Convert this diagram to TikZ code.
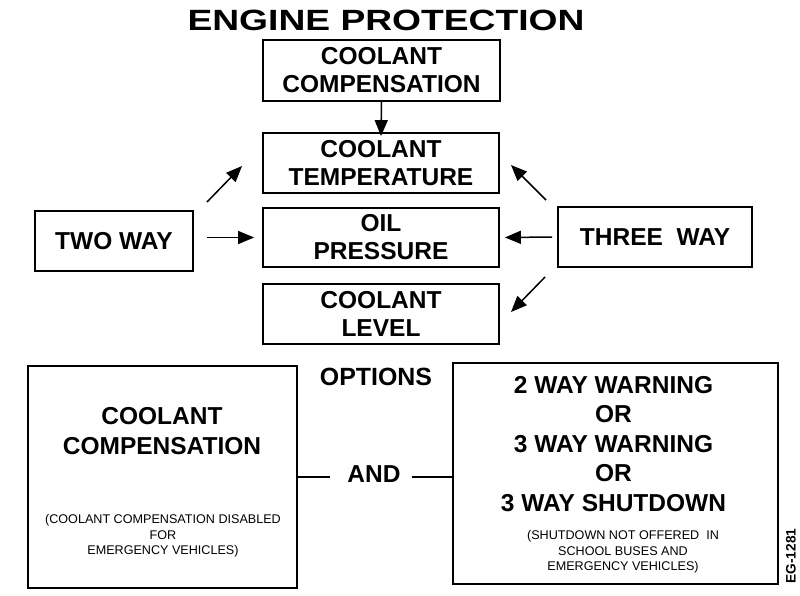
\documentclass[tikz,border=0pt]{standalone}
\usepackage{fontspec}
\setmainfont{Liberation Sans}
\newfontfamily\titlefont[FakeStretch=1.27]{Liberation Sans}
\usepackage{tikz}
\usetikzlibrary{positioning,arrows.meta,calc}
\tikzset{
  sensebox/.style={draw, line width=1.8pt, minimum width=236pt, minimum height=60pt,
                   inner sep=0pt, align=center, font=\fontsize{24.5}{28}\selectfont\bfseries},
  modebox/.style={draw, line width=1.8pt, minimum height=60pt, inner sep=0pt,
                  align=center, font=\fontsize{24.5}{28}\selectfont\bfseries},
  optbox/.style={draw, line width=1.8pt, inner sep=0pt},
  bigtxt/.style={inner sep=0pt, align=center, font=\fontsize{24.5}{29.5}\selectfont\bfseries},
  smalltxt/.style={inner sep=0pt, align=center, font=\fontsize{12.6}{15.5}\selectfont},
  arr/.style={-{Triangle[length=16pt,width=13pt]}, line width=1.5pt},
  link/.style={line width=1.3pt}
}

\begin{document}
\begin{tikzpicture}[x=1pt,y=-1pt]
  \useasboundingbox (0,0) rectangle (800,595);

  % Title
  \node[inner sep=0pt, font=\titlefont\fontsize{29.3}{32}\selectfont\bfseries] (title) at (386,20)
        {ENGINE PROTECTION};

  % Protected values
  \node[sensebox, minimum width=237pt, minimum height=61pt] (comp) at (381.5,70.5)
        {COOLANT\\COMPENSATION};
  \node[sensebox] (temp) at (381,163) {COOLANT\\TEMPERATURE};
  \node[sensebox, minimum height=59pt] (oil) at (381,237.5) {OIL\\PRESSURE};
  \node[sensebox] (level) at (381,314) {COOLANT\\LEVEL};

  % Warning modes
  \node[modebox, minimum width=158pt] (two) at (114,241) {TWO WAY};
  \node[modebox, minimum width=194pt] (three) at (655,237) {THREE\ \ WAY};

  % Arrow ends
  \coordinate (twoup) at (207,202);
  \coordinate (tempsw) at (242,166);
  \coordinate (threeup) at (546,200);
  \coordinate (tempse) at (511,165);
  \coordinate (threedn) at (545,277);
  \coordinate (levelne) at (511,312);

  \draw[arr] (comp.south) -- ([yshift=-4pt]temp.north);
  \draw[arr] (twoup) -- (tempsw);
  \draw[arr, shorten <=13pt, shorten >=8pt] (two.east |- oil.west) -- (oil.west);
  \draw[arr] (threeup) -- (tempse);
  \draw[arr, shorten <=5pt, shorten >=5pt] (three.west) -- (oil.east);
  \draw[arr] (threedn) -- (levelne);

  % Options
  \node[inner sep=0pt, font=\fontsize{24.9}{28}\selectfont\bfseries] (options) at (376,377) {OPTIONS};

  \node[optbox, minimum width=269pt, minimum height=222pt] (ccbox) at (162.5,477) {};
  \node[bigtxt] (cctext) at (162,431) {COOLANT\\COMPENSATION};
  \node[smalltxt] (ccnote) at (163,536)
        {(COOLANT COMPENSATION DISABLED\\FOR\\EMERGENCY VEHICLES)};

  \node[optbox, minimum width=325pt, minimum height=221pt] (warnbox) at (615.5,473.5) {};
  \node[bigtxt] (warntext) at (613.5,444)
        {2 WAY WARNING\\OR\\3 WAY WARNING\\OR\\3 WAY SHUTDOWN};
  \node[smalltxt] (warnnote) at (623,552)
        {(SHUTDOWN NOT OFFERED\ \ IN\\SCHOOL BUSES AND\\EMERGENCY VEHICLES)};

  \node[inner sep=0pt, font=\fontsize{24.5}{28}\selectfont\bfseries] (and) at (374,474) {AND};
  \draw[link] (ccbox.east |- 0,477) -- ([xshift=-17pt]and.west |- 0,477);
  \draw[link] ([xshift=11pt]and.east |- 0,477) -- (warnbox.west |- 0,477);

  % Figure number
  \node[inner sep=0pt, rotate=90, font=\fontsize{13.7}{16}\selectfont\bfseries] (fignum) at (791,556) {EG-1281};
\end{tikzpicture}
\end{document}
